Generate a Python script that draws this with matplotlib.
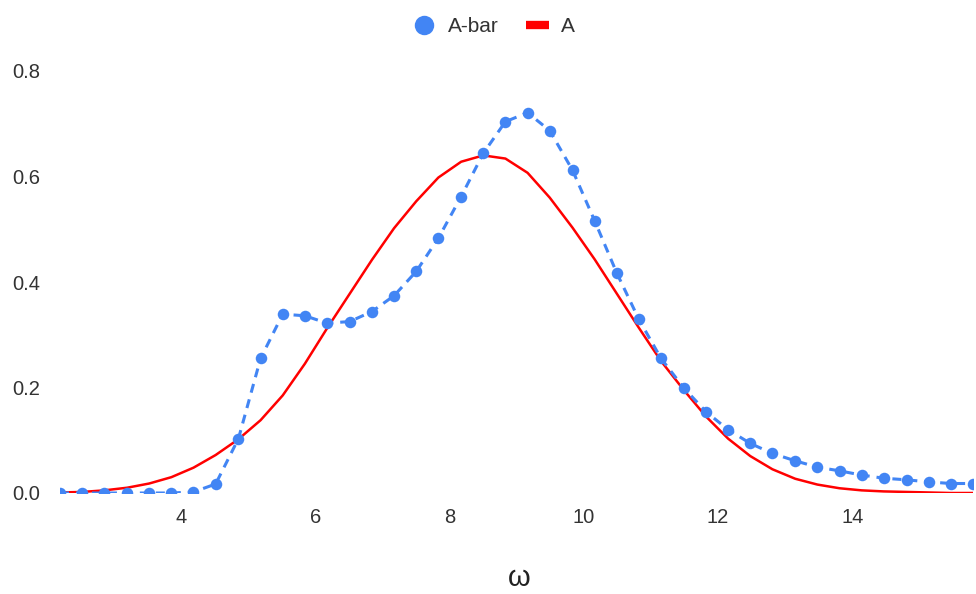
import matplotlib
matplotlib.use("Agg")
import matplotlib.pyplot as plt
from matplotlib.lines import Line2D

plt.rcParams['font.family'] = ['Liberation Sans', 'DejaVu Sans']

# Frequency grid
omega = [2.19, 2.52, 2.85, 3.19, 3.52, 3.85, 4.18, 4.51, 4.85, 5.18,
         5.51, 5.84, 6.17, 6.51, 6.84, 7.17, 7.50, 7.83, 8.17, 8.50,
         8.83, 9.16, 9.49, 9.83, 10.16, 10.49, 10.82, 11.15, 11.49, 11.82,
         12.15, 12.48, 12.81, 13.15, 13.48, 13.81, 14.14, 14.47, 14.81, 15.14,
         15.47, 15.80]

# Reconstructed spectral function (A-bar)
a_bar = [0.0, 0.0, 0.0, 0.0, 0.0, 0.0, 0.002, 0.017, 0.103, 0.255,
         0.339, 0.336, 0.322, 0.325, 0.344, 0.374, 0.420, 0.483, 0.562, 0.644,
         0.704, 0.721, 0.687, 0.612, 0.516, 0.417, 0.329, 0.255, 0.199, 0.154,
         0.120, 0.094, 0.075, 0.061, 0.049, 0.042, 0.034, 0.028, 0.025, 0.021,
         0.018, 0.018]

# Exact spectral function (A)
a_exact = [0.001, 0.002, 0.005, 0.010, 0.018, 0.030, 0.048, 0.072, 0.102, 0.138,
           0.185, 0.245, 0.312, 0.378, 0.442, 0.502, 0.553, 0.598, 0.628, 0.640,
           0.634, 0.607, 0.560, 0.503, 0.443, 0.378, 0.313, 0.250, 0.195, 0.145,
           0.103, 0.070, 0.045, 0.027, 0.016, 0.009, 0.005, 0.003, 0.002, 0.001,
           0.000, 0.000]

x_ticks = [4, 6, 8, 10, 12, 14]
y_ticks = [0.0, 0.2, 0.4, 0.6, 0.8]
y_tick_labels = ["0.0", "0.2", "0.4", "0.6", "0.8"]

BLUE = "#4285F4"
RED = "#FF0000"
TEXT = "#333333"

W, H = 976, 594
fig = plt.figure(figsize=(W / 100, H / 100), dpi=100)
left, right = 60 / W, 973 / W
bottom, top = (H - 493) / H, (H - 71) / H
ax = fig.add_axes([left, bottom, right - left, top - bottom])

ax.plot(omega, a_exact, color=RED, lw=1.8, zorder=2, solid_joinstyle='round')
lw_b = 2.2
ax.plot(omega, a_bar, color=BLUE, lw=lw_b, ls=(0, (6.5 / lw_b, 5.0 / lw_b)),
        marker='o', markersize=8.3, markeredgewidth=0, zorder=3)

ax.set_xlim(omega[0], omega[-1])
ax.set_ylim(0, 0.8)
ax.set_xticks(x_ticks)
ax.set_xticklabels([str(t) for t in x_ticks])
ax.set_yticks(y_ticks)
ax.set_yticklabels(y_tick_labels)
ax.tick_params(axis='both', length=0, labelsize=14.5, labelcolor=TEXT)
ax.tick_params(axis='x', pad=11)
ax.tick_params(axis='y', pad=14)
for s in ax.spines.values():
    s.set_visible(False)

fig.text(519 / W, 1 - 578 / H, "ω", ha='center', va='center',
         fontsize=21, color="#222222")

handles = [
    Line2D([], [], color=BLUE, marker='o', ls='none', markersize=14, markeredgewidth=0),
    Line2D([], [], color=RED, lw=6, solid_capstyle='butt'),
]
fig.legend(handles, ["A-bar", "A"], loc='center', bbox_to_anchor=(494 / W, 1 - 27 / H),
           ncol=2, frameon=False, fontsize=15, labelcolor=TEXT,
           handlelength=1.1, handletextpad=0.6, columnspacing=1.3)

fig.savefig("out.png", dpi=100)
